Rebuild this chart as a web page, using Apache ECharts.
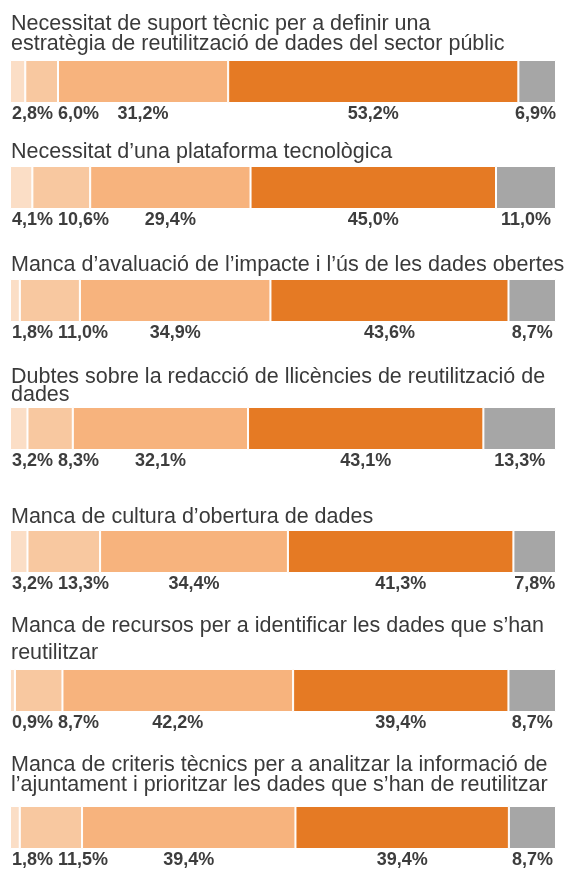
<!DOCTYPE html>
<html>
<head>
<meta charset="utf-8">
<title>Necessitats i mancances</title>
<script src="https://cdn.jsdelivr.net/npm/echarts@6/dist/echarts.min.js"></script>
<style>
  html, body { margin: 0; padding: 0; background: #fff; }
  #main { width: 568px; height: 869px; }
</style>
</head>
<body>
<div id="main"></div>
<script>
// dades (percentatges per a cada resposta)
var titles = [
  'Necessitat de suport tècnic per a definir una\nestratègia de reutilització de dades del sector públic',
  'Necessitat d’una plataforma tecnològica',
  'Manca d’avaluació de l’impacte i l’ús de les dades obertes',
  'Dubtes sobre la redacció de llicències de reutilització de\ndades',
  'Manca de cultura d’obertura de dades',
  'Manca de recursos per a identificar les dades que s’han\nreutilitzar',
  'Manca de criteris tècnics per a analitzar la informació de\nl’ajuntament i prioritzar les dades que s’han de reutilitzar'
];
var level1 = [2.8, 4.1, 1.8, 3.2, 3.2, 0.9, 1.8];
var level2 = [6.0, 10.6, 11.0, 8.3, 13.3, 8.7, 11.5];
var level3 = [31.2, 29.4, 34.9, 32.1, 34.4, 42.2, 39.4];
var level4 = [53.2, 45.0, 43.6, 43.1, 41.3, 39.4, 39.4];
var level5 = [6.9, 11.0, 8.7, 13.3, 7.8, 8.7, 8.7];

var levels = [level1, level2, level3, level4, level5];
var colors = ['#fbdec6', '#f8c8a0', '#f7b37d', '#e57a24', '#a6a6a6'];

// posicions de cada fila
var barTop = [60, 166, 279, 407, 530, 669, 806];
var barH = 43;
var titleTop = [14, 142, 255, 368, 507, 613, 755];
var titleLineH = [20, 20, 20, 18, 20, 27, 20];

var FONT = '"Liberation Sans", Arial, Helvetica, sans-serif';
var TITLE_SIZE = 21.5;
var LABEL_SIZE = 18;

var ctx = document.createElement('canvas').getContext('2d');
ctx.font = 'bold ' + LABEL_SIZE + 'px ' + FONT;

function fmt(v) {
  return v.toFixed(1).replace('.', ',') + '%';
}

// col·loca les etiquetes sota la barra sense que es trepitgin
function placeLabels(row, barLeft, scale) {
  var n = levels.length, gap = 5;
  var w = [], left = [], cum = 0, barRight;
  for (var k = 0; k < n; k++) {
    var v = levels[k][row];
    w[k] = ctx.measureText(fmt(v)).width;
    left[k] = barLeft + (cum + v / 2) * scale - w[k] / 2;
    cum += v;
  }
  barRight = barLeft + cum * scale;
  left[0] = Math.max(left[0], barLeft + 2);
  for (k = 1; k < n; k++) left[k] = Math.max(left[k], left[k - 1] + w[k - 1] + gap);
  left[n - 1] = Math.min(left[n - 1], barRight - w[n - 1]);
  for (k = n - 2; k >= 0; k--) left[k] = Math.min(left[k], left[k + 1] - gap - w[k]);
  return left.map(function (l, i) { return l + w[i] / 2; });
}

var grids = [], xAxes = [], yAxes = [], series = [], titleList = [];

titles.forEach(function (t, r) {
  titleList.push({
    text: t,
    left: 11,
    top: titleTop[r],
    padding: 0,
    textStyle: {
      fontFamily: FONT,
      fontSize: TITLE_SIZE,
      fontWeight: 'normal',
      color: '#3a3a3a',
      lineHeight: titleLineH[r]
    }
  });
  grids.push({ left: 10, right: 12, top: barTop[r], height: barH });
  xAxes.push({ gridIndex: r, type: 'value', min: 0, max: 'dataMax', show: false });
  yAxes.push({ gridIndex: r, type: 'category', data: [''], show: false });

  levels.forEach(function (arr, k) {
    series.push({
      type: 'bar',
      xAxisIndex: r,
      yAxisIndex: r,
      stack: 'fila' + r,
      barWidth: '100%',
      data: [arr[r]],
      itemStyle: { color: colors[k], borderColor: '#fff', borderWidth: 1 },
      label: {
        show: true,
        position: 'bottom',
        formatter: function (p) { return fmt(p.value); },
        fontFamily: FONT,
        fontSize: LABEL_SIZE,
        fontWeight: 'bold',
        color: '#3d3d3d'
      },
      labelLayout: function (p) {
        var before = 0;
        for (var j = 0; j < k; j++) before += levels[j][r];
        var scale = p.rect.width / arr[r];
        var barLeft = p.rect.x - before * scale;
        var xs = placeLabels(r, barLeft, scale);
        return {
          x: xs[k],
          y: p.rect.y + p.rect.height + 11,
          align: 'center',
          verticalAlign: 'middle'
        };
      }
    });
  });
});

var chart = echarts.init(document.getElementById('main'));
chart.setOption({
  backgroundColor: '#fff',
  animation: false,
  title: titleList,
  grid: grids,
  xAxis: xAxes,
  yAxis: yAxes,
  series: series
});
</script>
</body>
</html>
